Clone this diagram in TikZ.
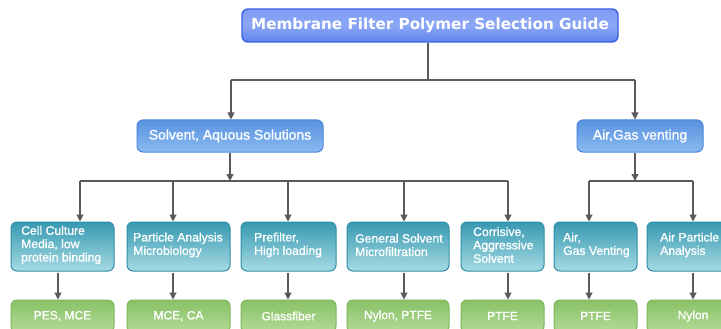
\documentclass[tikz,border=0pt]{standalone}
\usepackage{fontspec}
\setmainfont{Liberation Sans}
\newfontfamily\titlefont{DejaVu Sans}
\newfontfamily\medfont{Liberation Sans}[FakeBold=1.1]
\usetikzlibrary{arrows.meta,shadows}
\definecolor{lineg}{HTML}{5A5A5A}
\definecolor{ttop}{HTML}{7E9CF4}
\definecolor{tbot}{HTML}{5E84EE}
\definecolor{tbord}{HTML}{3A62E0}
\definecolor{stop}{HTML}{5892E0}
\definecolor{sbot}{HTML}{8ABAF0}
\definecolor{sbord}{HTML}{4A86D8}
\definecolor{ctop}{HTML}{3799B2}
\definecolor{cbot}{HTML}{A6DBE3}
\definecolor{cbord}{HTML}{2F8EA8}
\definecolor{gtop}{HTML}{88C266}
\definecolor{gbot}{HTML}{B4DA98}
\definecolor{gbord}{HTML}{7DB85A}
\tikzset{
  conn/.style={draw=lineg, line width=1.2pt},
  arr/.style={conn, -{Triangle[width=7pt,length=7pt]}},
  titlebox/.style={draw=tbord, line width=1.4pt, rounded corners=6pt, top color=ttop, bottom color=tbot, middle color=ttop!90!white, text=white, minimum width=376pt, minimum height=33pt, inner sep=0pt, font=\titlefont\bfseries\fontsize{15.2}{17}\selectfont},
  catbox/.style={draw=sbord, line width=1pt, rounded corners=6pt, top color=stop, bottom color=sbot, text=white, minimum height=32pt, inner sep=0pt, font=\medfont\fontsize{13.9}{15}\selectfont},
  usebox/.style={draw=cbord, line width=1pt, rounded corners=6pt, top color=ctop, bottom color=cbot, text=white, minimum height=49pt, inner sep=0pt},
  matbox/.style={draw=gbord, line width=1pt, rounded corners=6pt, top color=gtop, bottom color=gbot, text=white, minimum height=32pt, inner sep=0pt, font=\medfont\fontsize{12}{13}\selectfont},
  lab/.style={text=white, inner sep=0pt, align=left, font=\medfont\fontsize{12.2}{13.4}\selectfont, anchor=west}
}
\begin{document}
\begin{tikzpicture}[x=1pt,y=-1pt]
\useasboundingbox (0,0) rectangle (721,329);
\clip (0,0) rectangle (721,329);
\fill[white] (0,0) rectangle (721,329);

% title
\node[titlebox] (title) at (430,25.5) {Membrane Filter Polymer Selection Guide};

% categories
\node[catbox, minimum width=186pt] (solv) at (230,136) {Solvent, Aquous Solutions};
\node[catbox, minimum width=126pt] (air) at (640,136) {Air,Gas venting};

% use boxes
\node[usebox, minimum width=103pt] (u1) at (62.5,246.5) {};
\node[usebox, minimum width=103pt] (u2) at (178.5,246.5) {};
\node[usebox, minimum width=95pt] (u3) at (288.5,246.5) {};
\node[usebox, minimum width=102pt] (u4) at (398,246.5) {};
\node[usebox, minimum width=83pt] (u5) at (502.5,246.5) {};
\node[usebox, minimum width=83pt] (u6) at (595.5,246.5) {};
\node[usebox, minimum width=92pt] (u7) at (693,246.5) {};

\node[lab] (l1) at (21,245) {Cell Culture\\Media, low\\protein binding};
\node[lab] (l2) at (133,245) {Particle Analysis\\Microbiology};
\node[lab] (l3) at (254,245) {Prefilter,\\High loading};
\node[lab] (l4) at (355,245) {General Solvent\\Microfiltration};
\node[lab] (l5) at (473,245) {Corrisive,\\Aggressive\\Solvent};
\node[lab] (l6) at (563,245) {Air,\\Gas Venting};
\node[lab] (l7) at (660,245) {Air Particle\\Analysis};

% material boxes
\node[matbox, minimum width=103pt] (m1) at (62.5,316) {PES, MCE};
\node[matbox, minimum width=103pt] (m2) at (178.5,316) {MCE, CA};
\node[matbox, minimum width=95pt] (m3) at (288.5,316) {Glassfiber};
\node[matbox, minimum width=102pt] (m4) at (398,316) {Nylon, PTFE};
\node[matbox, minimum width=83pt] (m5) at (502.5,316) {PTFE};
\node[matbox, minimum width=83pt] (m6) at (595.5,316) {PTFE};
\node[matbox, minimum width=92pt] (m7) at (693,316) {Nylon};

% connectors level 1
\coordinate (tb) at (428,80);
\coordinate (bl) at (231,80);
\coordinate (br) at (635,80);
\draw[conn] (title.south -| tb) -- (tb);
\draw[conn] (bl) -- (br);
\draw[arr] (bl) -- (solv.north -| bl);
\draw[arr] (br) -- (air.north -| br);

% level 2 buses
\coordinate (sb) at (230,181);
\coordinate (s1) at (80,181);
\coordinate (s2) at (173,181);
\coordinate (s3) at (288,181);
\coordinate (s4) at (404,181);
\coordinate (s5) at (508,181);
\coordinate (ab) at (635,181);
\coordinate (a1) at (589,181);
\coordinate (a2) at (693,181);
\draw[arr] (solv.south -| sb) -- (sb);
\draw[conn] (s1) -- (s5);
\draw[arr] (air.south -| ab) -- (ab);
\draw[conn] (a1) -- (a2);
\foreach \s/\u in {s1/u1,s2/u2,s3/u3,s4/u4,s5/u5,a1/u6,a2/u7}
  \draw[arr] (\s) -- (\u.north -| \s);

% level 3 to materials
\foreach \xx/\u/\m in {58/u1/m1,173/u2/m2,288/u3/m3,404/u4/m4,508/u5/m5,589/u6/m6,693/u7/m7}
  \draw[arr] ([yshift=-1pt]\u.south -| \xx,0) -- (\m.north -| \xx,0);
\end{tikzpicture}
\end{document}
